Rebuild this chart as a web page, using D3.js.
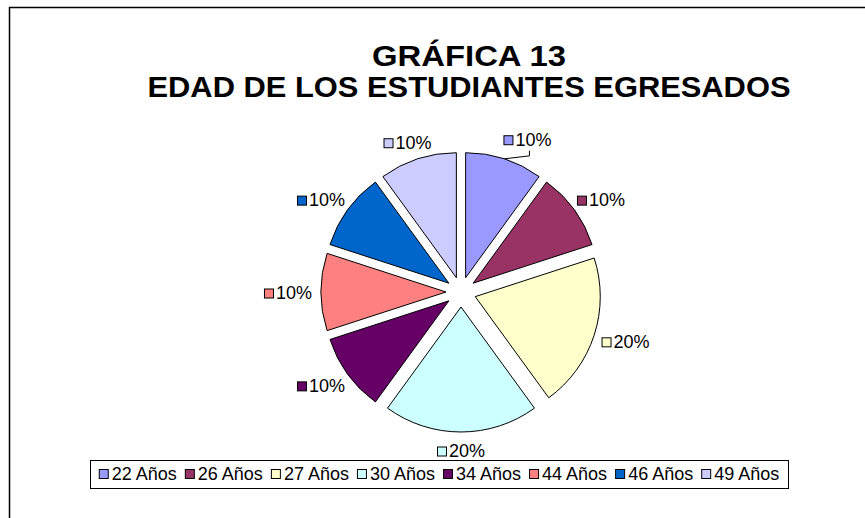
<!DOCTYPE html>
<html lang="es">
<head>
<meta charset="UTF-8">
<title>Gráfica 13</title>
<style>
  body { margin: 0; background: #fff; }
  svg { display: block; font-family: "Liberation Sans", Arial, sans-serif; }
</style>
</head>
<body>
<svg></svg>
<script src="https://cdn.jsdelivr.net/npm/d3@7/dist/d3.min.js"></script>
<script>
// data
const ages = ["22 Años", "26 Años", "27 Años", "30 Años", "34 Años", "44 Años", "46 Años", "49 Años"];
const shares = [10, 10, 20, 20, 10, 10, 10, 10];
const colors = ["#9999FF", "#993366", "#FFFFCC", "#CCFFFF", "#660066", "#FF8080", "#0066CC", "#CCCCFF"];
const titleLines = ["GRÁFICA 13", "EDAD DE LOS ESTUDIANTES EGRESADOS"];

const width = 865, height = 518;
const cx = 461, cy = 292, radius = 125, explode = 15;
const labelRadius = 149;
const fontSize = 18, keySize = 9;

const svg = d3.select("svg")
    .attr("width", width)
    .attr("height", height)
    .attr("viewBox", `0 0 ${width} ${height}`);

// outer frame (runs off the right / bottom edge like the original)
svg.append("rect")
    .attr("x", 9.5).attr("y", 7.5)
    .attr("width", 900).attr("height", 600)
    .attr("fill", "none")
    .attr("stroke", "#000")
    .attr("stroke-width", 1.5);

// title
const titleW = [194, 643];
svg.append("g")
    .attr("text-anchor", "middle")
    .attr("font-weight", "bold")
    .attr("font-size", 29)
    .selectAll("text")
    .data(titleLines)
    .join("text")
    .attr("x", 469)
    .attr("y", (d, i) => 66 + i * 31)
    .attr("textLength", (d, i) => titleW[i])
    .attr("lengthAdjust", "spacingAndGlyphs")
    .text(d => d);

const color = d3.scaleOrdinal(ages, colors);

const pie = d3.pie().sort(null).value(d => d.value);
const arcs = pie(ages.map((a, i) => ({age: a, value: shares[i]})));
const arc = d3.arc().innerRadius(0).outerRadius(radius);

const mid = d => (d.startAngle + d.endAngle) / 2;
const unit = a => [Math.sin(a), -Math.cos(a)];

const chart = svg.append("g").attr("transform", `translate(${cx},${cy})`);

chart.selectAll("path")
    .data(arcs)
    .join("path")
    .attr("transform", d => {
        const [ux, uy] = unit(mid(d));
        return `translate(${ux * explode},${uy * explode})`;
    })
    .attr("d", arc)
    .attr("fill", d => color(d.data.age))
    .attr("stroke", "#000")
    .attr("stroke-width", 1);

// data labels: key square + percentage, placed just outside the pie
const total = d3.sum(shares);
const fmt = d3.format(".0%");
const nudge = {"22 Años": [13, -3]};

const labels = chart.selectAll("g.lbl")
    .data(arcs)
    .join("g")
    .attr("class", "lbl");

labels.append("rect")
    .attr("width", keySize).attr("height", keySize)
    .attr("fill", d => color(d.data.age))
    .attr("stroke", "#000")
    .attr("stroke-width", 1);

labels.append("text")
    .attr("font-size", fontSize)
    .attr("x", keySize + 3)
    .attr("y", 0)
    .attr("dy", "0.35em")
    .text(d => fmt(d.data.value / total));

labels.each(function(d) {
    const g = d3.select(this);
    const tw = g.select("text").node().getComputedTextLength();
    const w = keySize + 3 + tw, h = fontSize;
    const [ux, uy] = unit(mid(d));
    const n = nudge[d.data.age] || [0, 0];
    const lx = ux * labelRadius + ux * w / 2 + n[0];
    const ly = uy * labelRadius + uy * h / 2 + n[1] + 1;
    d.lbl = {x: lx, y: ly, w, h};
    g.attr("transform", `translate(${lx - w / 2},${ly})`);
    g.select("rect").attr("x", 0.5).attr("y", -keySize / 2 + 0.5);
});

// leader line for the label that was moved away from its slice
chart.selectAll("polyline")
    .data(arcs.filter(d => nudge[d.data.age]))
    .join("polyline")
    .attr("fill", "none")
    .attr("stroke", "#000")
    .attr("stroke-width", 1)
    .attr("points", d => {
        const [ux, uy] = unit(mid(d));
        const p = [ux * (radius + explode), uy * (radius + explode)];
        const x = d.lbl.x + 2, yb = d.lbl.y + d.lbl.h / 2 + 2;
        return [p, [x, p[1] - 3], [x, yb]].map(q => q.join(",")).join(" ");
    });

// legend
const legend = svg.append("g");
const items = legend.selectAll("g")
    .data(ages)
    .join("g");

items.append("rect")
    .attr("width", keySize).attr("height", keySize)
    .attr("y", 474 - keySize / 2)
    .attr("fill", d => color(d))
    .attr("stroke", "#000")
    .attr("stroke-width", 1);

items.append("text")
    .attr("font-size", fontSize)
    .attr("y", 474)
    .attr("dy", "0.35em")
    .text(d => d);

let x = 0;
const pos = [];
items.each(function() {
    const tw = d3.select(this).select("text").node().getComputedTextLength();
    pos.push(x);
    x += keySize + 4 + tw + 8;
});
const contentW = x - 8;
const boxL = 90, boxR = 788;
const start = (boxL + boxR) / 2 - contentW / 2;
items.each(function(d, i) {
    const g = d3.select(this);
    g.select("rect").attr("x", start + pos[i] + 0.5);
    g.select("text").attr("x", start + pos[i] + keySize + 4);
});

legend.insert("rect", ":first-child")
    .attr("x", boxL + 0.5).attr("y", 460.5)
    .attr("width", boxR - boxL).attr("height", 28)
    .attr("fill", "#fff")
    .attr("stroke", "#000")
    .attr("stroke-width", 1);
</script>
</body>
</html>
